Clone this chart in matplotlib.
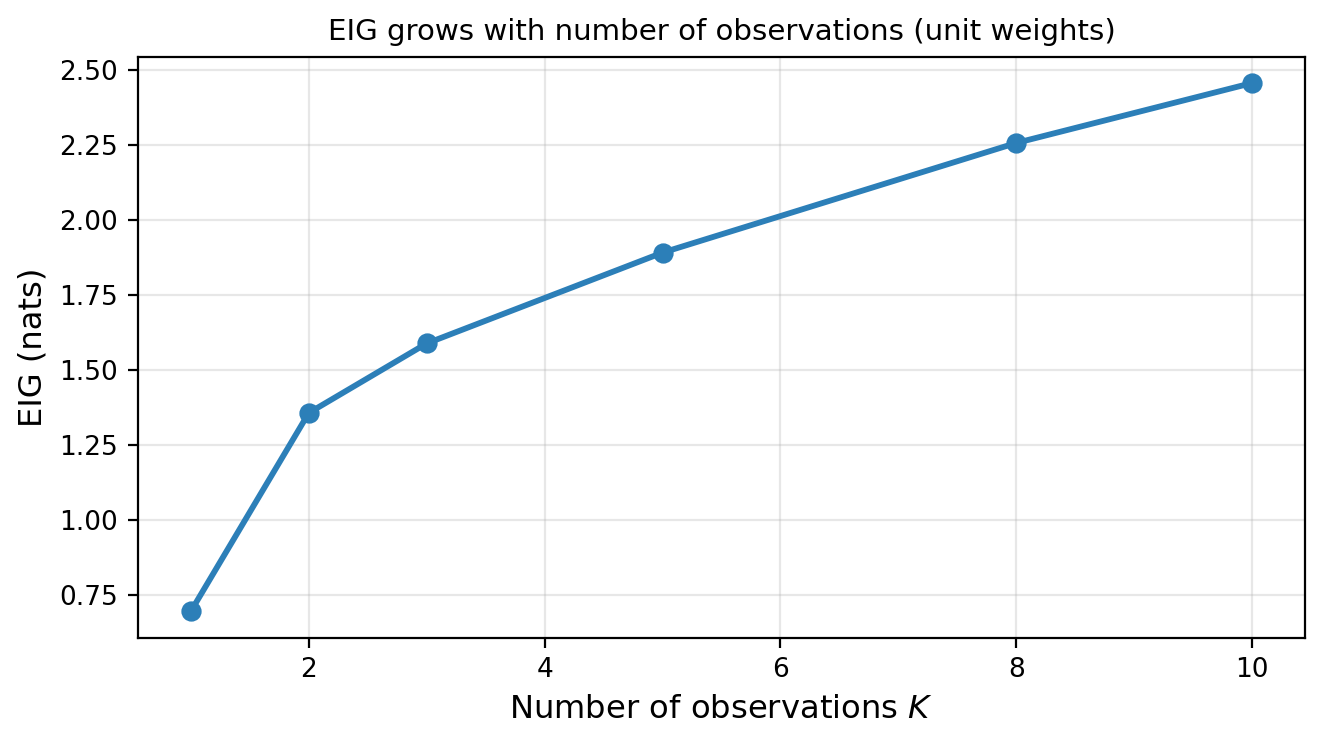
import matplotlib
matplotlib.use("Agg")
import matplotlib.pyplot as plt

K = [1, 2, 3, 5, 8, 10]
eig = [0.694, 1.356, 1.588, 1.891, 2.257, 2.457]

fig, ax = plt.subplots(figsize=(6.625, 3.725), dpi=200)
fig.subplots_adjust(left=0.104, right=0.985, top=0.924, bottom=0.144)

ax.plot(K, eig, marker="o", color="#2c7fb8", lw=2.1, ms=6.3)
ax.set_title("EIG grows with number of observations (unit weights)", fontsize=10.55)
ax.set_xlabel("Number of observations $K$", fontsize=11.6)
ax.set_ylabel("EIG (nats)", fontsize=11.6)
ax.tick_params(labelsize=9.5)
ax.grid(True, alpha=0.3)

fig.savefig("out.png", dpi=200)
